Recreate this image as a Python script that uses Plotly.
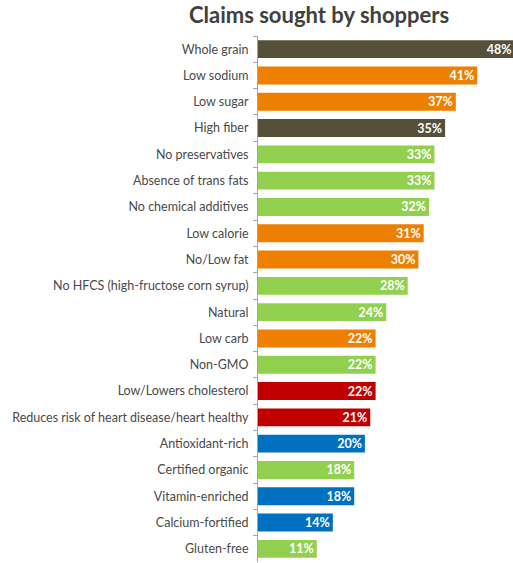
import plotly.graph_objects as go

categories = ["Whole grain", "Low sodium", "Low sugar", "High fiber", "No preservatives",
              "Absence of trans fats", "No chemical additives", "Low calorie", "No/Low fat",
              "No HFCS (high-fructose corn syrup)", "Natural", "Low carb", "Non-GMO",
              "Low/Lowers cholesterol", "Reduces risk of heart disease/heart healthy",
              "Antioxidant-rich", "Certified organic", "Vitamin-enriched", "Calcium-fortified",
              "Gluten-free"]
values = [48, 41, 37, 35, 33, 33, 32, 31, 30, 28, 24, 22, 22, 22, 21, 20, 18, 18, 14, 11]
groups = ["grain", "less", "less", "grain", "clean", "clean", "clean", "less", "less",
          "clean", "clean", "less", "clean", "heart", "heart", "fortify", "clean",
          "fortify", "fortify", "clean"]
group_colors = {"grain": "#545039", "less": "#EE7F00", "clean": "#92D050",
                "heart": "#C00000", "fortify": "#0070C0"}

fig = go.Figure(go.Bar(
    x=values, y=categories, orientation="h",
    marker=dict(color=[group_colors[g] for g in groups], line=dict(width=0)),
    text=[f"{v}%" for v in values], textposition="inside", insidetextanchor="end",
    textfont=dict(color="white", size=12.5, family="Lato", weight="bold"),
))

fig.update_layout(
    width=513, height=563,
    margin=dict(l=258, r=0, t=36, b=1),
    paper_bgcolor="white", plot_bgcolor="white",
    bargap=0.32,
    showlegend=False,
    title=dict(text="<b>Claims sought by shoppers</b>", x=0.622, xanchor="center",
               xref="container", y=0.972, yref="container", yanchor="middle",
               font=dict(family="Lato", size=22, color="#404040")),
    font=dict(family="Lato", size=12, color="#4a4a4a"),
    uniformtext=dict(minsize=12.5, mode="show"),
)
fig.update_xaxes(range=[0, 47.7], visible=False)
fig.update_yaxes(autorange="reversed", showline=True, linecolor="#A6A6A6", linewidth=1,
                 ticks="outside", tickson="boundaries", ticklen=4, tickcolor="#A6A6A6",
                 ticklabelstandoff=6,
                 showgrid=False, tickfont=dict(family="Lato", size=12.5, color="#4a4a4a"))

fig.write_html("out.html", config={"displayModeBar": False},
               post_script="document.body.style.margin='0';")
